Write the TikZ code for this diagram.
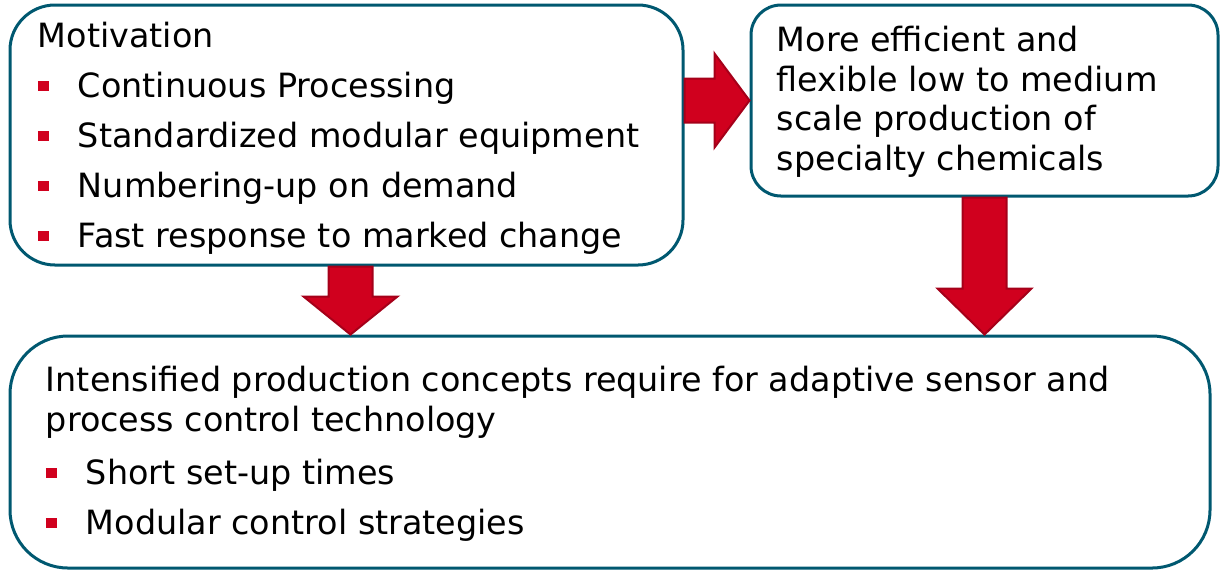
\documentclass[tikz,border=0pt]{standalone}
\usepackage{fontspec}
\setmainfont{DejaVu Sans}
\usetikzlibrary{calc}
\definecolor{boxteal}{RGB}{0,88,112}
\definecolor{arrowred}{RGB}{208,0,30}
\definecolor{arrowedge}{RGB}{165,0,25}
\newcommand{\sqbullet}{\makebox[20pt][l]{\textcolor{arrowred}{\rule[3.4pt]{5.5pt}{5pt}}}}

\begin{document}
\begin{tikzpicture}[x=0.5pt,y=-0.5pt,
    box/.style={draw=boxteal,line width=1.5pt,inner sep=0pt},
    boxtext/.style={anchor=base west,align=left,inner sep=0pt},
    fat arrow/.style={draw=arrowedge,fill=arrowred,line width=1pt,line join=miter}]
  \useasboundingbox (0,0) rectangle (1220,570);

  \node[box,rounded corners=22.5pt,minimum width=336.5pt,minimum height=130pt] (motiv) at (346.5,135) {};
  \node[box,rounded corners=15pt,minimum width=233.5pt,minimum height=95.5pt] (goal) at (984.5,100.5) {};
  \node[box,rounded corners=29pt,minimum width=600pt,minimum height=116pt] (result) at (610,452) {};

  % texts anchored at their last baseline
  \node[boxtext,font=\fontsize{16.7}{25}\selectfont] (motiv text) at ([shift={(29,244)}]motiv.north west)
    {Motivation\\
     \sqbullet Continuous Processing\\
     \sqbullet Standardized modular equipment\\
     \sqbullet Numbering-up on demand\\
     \sqbullet Fast response to marked change};
  \node[boxtext,font=\fontsize{16.7}{19.8}\selectfont] (goal text) at ([shift={(27,167)}]goal.north west)
    {More efficient and\\
     flexible low to medium\\
     scale production of\\
     specialty chemicals};
  \node[boxtext,font=\fontsize{16.7}{19.8}\selectfont] (result text) at ([shift={(37,200)}]result.north west)
    {Intensified production concepts require for adaptive sensor and\\
     process control technology\\[6.7pt]
     \sqbullet Short set-up times\\[5.2pt]
     \sqbullet Modular control strategies};

  % block arrows
  \coordinate (a1 tail) at (motiv.east |- goal.west);
  \coordinate (a2 tail) at ([xshift=2pt]motiv.south);
  \coordinate (a2 tip) at (a2 tail |- result.north);
  \coordinate (a3 tip) at (goal.south |- result.north);
  \foreach \from/\to/\headlen in {a1 tail/goal.west/17.5pt, a2 tail/a2 tip/19pt, goal.south/a3 tip/23pt} {
    \coordinate (head base) at ($(\to)!\headlen!(\from)$);
    \draw[fat arrow] ($(\from)!11pt!90:(\to)$) -- ($(head base)!11pt!90:(\to)$)
      -- ($(head base)!23.5pt!90:(\to)$) -- (\to) -- ($(head base)!23.5pt!-90:(\to)$)
      -- ($(head base)!11pt!-90:(\to)$) -- ($(\from)!11pt!-90:(\to)$) -- cycle;
  }
\end{tikzpicture}
\end{document}
